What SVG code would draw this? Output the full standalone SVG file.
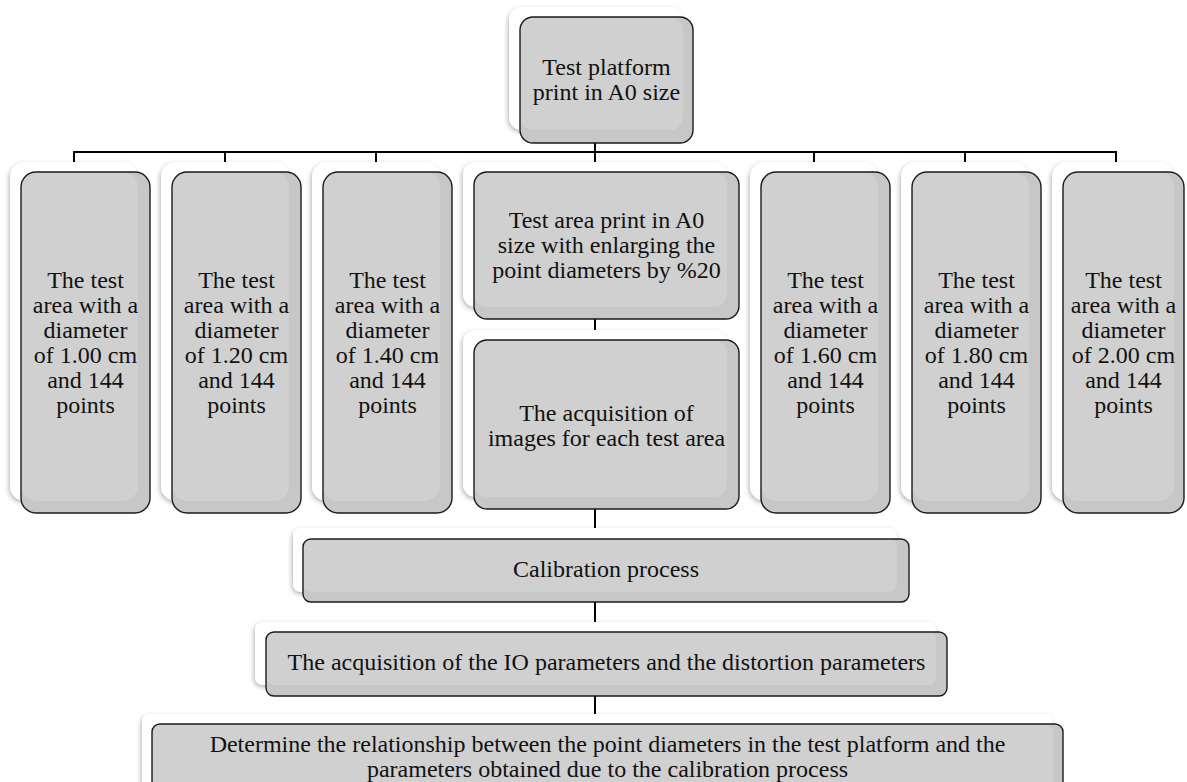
<svg xmlns="http://www.w3.org/2000/svg" width="1187" height="782" viewBox="0 0 1187 782">
<defs>
<filter id="sh" x="-20%" y="-20%" width="140%" height="140%">
<feDropShadow dx="-1" dy="2" stdDeviation="2.5" flood-color="#000" flood-opacity="0.3"/>
</filter>
</defs>
<style>
.back{fill:#ffffff;filter:url(#sh)}
.front{fill:#c7c7c7}
.lit{fill:#d0d0d0}
.edge{fill:none;stroke:#1a1a1a;stroke-width:1.4}
.t{font-family:"Liberation Serif","Times New Roman",serif;font-size:24px;fill:#111;text-anchor:middle}
.c{stroke:#000;stroke-width:2;fill:none}
</style>
<rect width="1187" height="782" fill="#fff"/>
<g id="connectors">
<path class="c" d="M74 152H1116M74 151V163M225 152V163M376 152V163M814 152V163M965 152V163M1116 151V163M595 143V163M595 319V331M595 509V529M595 602V623M595 696V715"/>
</g>
<g id="n-top">
<rect class="back" x="509" y="7" width="174" height="123" rx="13"/>
<rect class="front" x="520" y="17" width="173" height="126" rx="13"/>
<rect class="lit" x="520" y="17" width="163" height="113" rx="13"/>
<rect class="edge" x="520" y="17" width="173" height="126" rx="13"/>
<text class="t" x="606.5" y="75">Test platform</text>
<text class="t" x="606.5" y="100">print in A0 size</text>
</g>
<g id="n-c1">
<rect class="back" x="10" y="162" width="128" height="339" rx="15"/>
<rect class="front" x="21" y="172" width="129" height="341" rx="15"/>
<rect class="lit" x="21" y="172" width="117" height="329" rx="15"/>
<rect class="edge" x="21" y="172" width="129" height="341" rx="15"/>
<text class="t" x="85.5" y="288">The test</text><text class="t" x="85.5" y="313">area with a</text><text class="t" x="85.5" y="338">diameter</text><text class="t" x="85.5" y="363">of 1.00 cm</text><text class="t" x="85.5" y="388">and 144</text><text class="t" x="85.5" y="413">points</text>
</g>
<g id="n-c2">
<rect class="back" x="161" y="162" width="128" height="339" rx="15"/>
<rect class="front" x="172" y="172" width="129" height="341" rx="15"/>
<rect class="lit" x="172" y="172" width="117" height="329" rx="15"/>
<rect class="edge" x="172" y="172" width="129" height="341" rx="15"/>
<text class="t" x="236.5" y="288">The test</text><text class="t" x="236.5" y="313">area with a</text><text class="t" x="236.5" y="338">diameter</text><text class="t" x="236.5" y="363">of 1.20 cm</text><text class="t" x="236.5" y="388">and 144</text><text class="t" x="236.5" y="413">points</text>
</g>
<g id="n-c3">
<rect class="back" x="312" y="162" width="128" height="339" rx="15"/>
<rect class="front" x="323" y="172" width="129" height="341" rx="15"/>
<rect class="lit" x="323" y="172" width="117" height="329" rx="15"/>
<rect class="edge" x="323" y="172" width="129" height="341" rx="15"/>
<text class="t" x="387.5" y="288">The test</text><text class="t" x="387.5" y="313">area with a</text><text class="t" x="387.5" y="338">diameter</text><text class="t" x="387.5" y="363">of 1.40 cm</text><text class="t" x="387.5" y="388">and 144</text><text class="t" x="387.5" y="413">points</text>
</g>
<g id="n-enlarge">
<rect class="back" x="463" y="162" width="264" height="145" rx="13"/>
<rect class="front" x="474" y="172" width="265" height="147" rx="13"/>
<rect class="lit" x="474" y="172" width="253" height="135" rx="13"/>
<rect class="edge" x="474" y="172" width="265" height="147" rx="13"/>
<text class="t" x="606.5" y="228">Test area print in A0</text>
<text class="t" x="606.5" y="253">size with enlarging the</text>
<text class="t" x="606.5" y="278">point diameters by %20</text>
</g>
<g id="n-images">
<rect class="back" x="463" y="330" width="264" height="167" rx="13"/>
<rect class="front" x="474" y="340" width="265" height="169" rx="13"/>
<rect class="lit" x="474" y="340" width="253" height="157" rx="13"/>
<rect class="edge" x="474" y="340" width="265" height="169" rx="13"/>
<text class="t" x="606.5" y="421">The acquisition of</text>
<text class="t" x="606.5" y="446">images for each test area</text>
</g>
<g id="n-c5">
<rect class="back" x="750" y="162" width="128" height="339" rx="15"/>
<rect class="front" x="761" y="172" width="129" height="341" rx="15"/>
<rect class="lit" x="761" y="172" width="117" height="329" rx="15"/>
<rect class="edge" x="761" y="172" width="129" height="341" rx="15"/>
<text class="t" x="825.5" y="288">The test</text><text class="t" x="825.5" y="313">area with a</text><text class="t" x="825.5" y="338">diameter</text><text class="t" x="825.5" y="363">of 1.60 cm</text><text class="t" x="825.5" y="388">and 144</text><text class="t" x="825.5" y="413">points</text>
</g>
<g id="n-c6">
<rect class="back" x="901" y="162" width="128" height="339" rx="15"/>
<rect class="front" x="912" y="172" width="129" height="341" rx="15"/>
<rect class="lit" x="912" y="172" width="117" height="329" rx="15"/>
<rect class="edge" x="912" y="172" width="129" height="341" rx="15"/>
<text class="t" x="976.5" y="288">The test</text><text class="t" x="976.5" y="313">area with a</text><text class="t" x="976.5" y="338">diameter</text><text class="t" x="976.5" y="363">of 1.80 cm</text><text class="t" x="976.5" y="388">and 144</text><text class="t" x="976.5" y="413">points</text>
</g>
<g id="n-c7">
<rect class="back" x="1052" y="162" width="122" height="339" rx="15"/>
<rect class="front" x="1063" y="172" width="121" height="341" rx="15"/>
<rect class="lit" x="1063" y="172" width="111" height="329" rx="15"/>
<rect class="edge" x="1063" y="172" width="121" height="341" rx="15"/>
<text class="t" x="1123.5" y="288">The test</text><text class="t" x="1123.5" y="313">area with a</text><text class="t" x="1123.5" y="338">diameter</text><text class="t" x="1123.5" y="363">of 2.00 cm</text><text class="t" x="1123.5" y="388">and 144</text><text class="t" x="1123.5" y="413">points</text>
</g>
<g id="n-calib">
<rect class="back" x="293" y="528" width="604" height="64" rx="8"/>
<rect class="front" x="303" y="539" width="606" height="63" rx="8"/>
<rect class="lit" x="303" y="539" width="594" height="53" rx="8"/>
<rect class="edge" x="303" y="539" width="606" height="63" rx="8"/>
<text class="t" x="606" y="577">Calibration process</text>
</g>
<g id="n-io">
<rect class="back" x="255" y="622" width="681" height="63" rx="8"/>
<rect class="front" x="266" y="632" width="681" height="64" rx="8"/>
<rect class="lit" x="266" y="632" width="670" height="53" rx="8"/>
<rect class="edge" x="266" y="632" width="681" height="64" rx="8"/>
<text class="t" x="606.5" y="670">The acquisition of the IO parameters and the distortion parameters</text>
</g>
<g id="n-bottom">
<rect class="back" x="142" y="714" width="911" height="80" rx="8"/>
<rect class="front" x="152" y="724" width="911" height="80" rx="8"/>
<rect class="lit" x="152" y="724" width="901" height="70" rx="8"/>
<rect class="edge" x="152" y="724" width="911" height="80" rx="8"/>
<text class="t" x="607.5" y="752">Determine the relationship between the point diameters in the test platform and the</text>
<text class="t" x="607.5" y="777">parameters obtained due to the calibration process</text>
</g>
</svg>
